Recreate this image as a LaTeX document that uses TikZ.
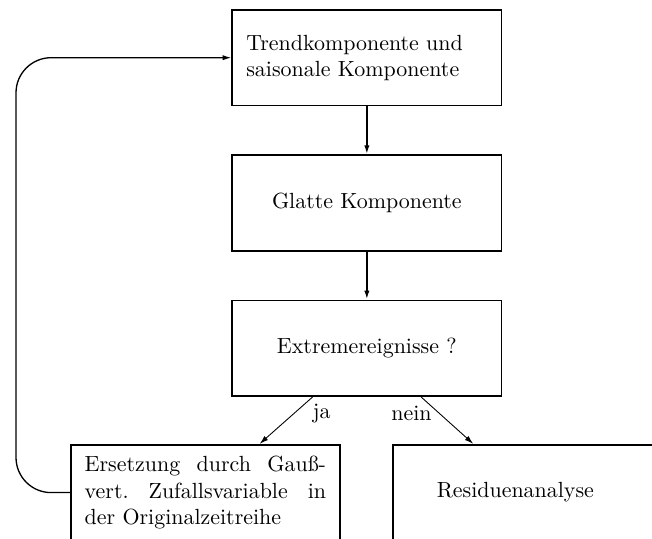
\documentclass[tikz,border=0pt]{standalone}
\usepackage{tikz}
\usepackage{amsmath}
\usetikzlibrary{positioning}
\usetikzlibrary{arrows.meta,calc}

\begin{document}
\begin{tikzpicture}[
    >={Latex[length=4pt,width=2.4pt]},
    basic/.style={draw,thick,minimum width=122.7pt,minimum height=43.6pt,inner xsep=6.4pt},
    stepbox/.style={basic,text width=109.9pt,align=left},
    centerbox/.style={basic,align=center},
    substbox/.style={basic,text width=110pt,align=justify},
    residbox/.style={basic,inner xsep=20pt,text width=82.7pt,align=left},
]
        \node[stepbox] (trend) {Trendkomponente und\\saisonale Komponente};
        \node[centerbox,below=21.8pt of trend] (smooth) {Glatte Komponente};
            \path[draw,thick,->] (trend) -- (smooth);
        \node[centerbox,below=21.8pt of smooth] (extreme) {Extremereignisse ?};
            \path[draw,thick,->] (smooth) -- (extreme);
        \node[substbox,below=21.4pt of extreme,xshift=-73.6pt] (subst) {Ersetzung durch Gauß-\linebreak vert.\ Zufallsvariable in\linebreak der Originalzeitreihe};
        \node[residbox,below=21.4pt of extreme,xshift=73.2pt] (resid) {Residuenanalyse};
            \path[draw,->] ($(extreme.south west)!0.3!(extreme.south east)$) -- node[pos=0.35,right=5pt]{ja} ($(subst.north west)!0.7!(subst.north east)$);
            \path[draw,->] ($(extreme.south west)!0.7!(extreme.south east)$) -- node[pos=0.35,left=0pt]{nein} ($(resid.north west)!0.3!(resid.north east)$);
%        feedback loop back to the top
            \path[draw,semithick,->,rounded corners=16pt] (subst.west) -- ++(-24.5pt,0) |- (trend.west);
        \pgfresetboundingbox
        \useasboundingbox ($(trend.north west)+(-105.45pt,4.1pt)$) rectangle ($(trend.east |- subst.north)+(68.2pt,-43pt)$);
    \end{tikzpicture}
\end{document}
